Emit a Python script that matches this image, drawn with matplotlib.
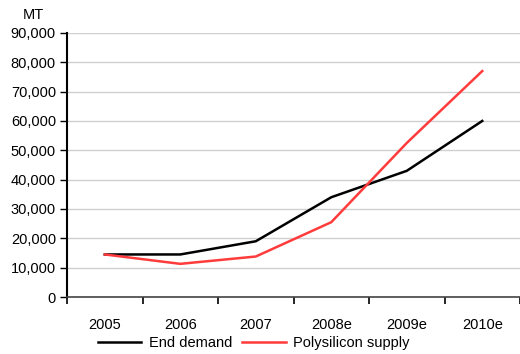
import matplotlib
matplotlib.use("Agg")
import matplotlib.pyplot as plt
import numpy as np

categories = ["2005", "2006", "2007", "2008e", "2009e", "2010e"]
end_demand = [14500, 14500, 19000, 34000, 43000, 60000]
poly_supply = [14500, 11300, 13800, 25500, 52500, 77000]
yticks = [0, 10000, 20000, 30000, 40000, 50000, 60000, 70000, 80000, 90000]

plt.rcParams['font.family'] = ['Liberation Sans', 'DejaVu Sans']
FS = 10.5

fig = plt.figure(figsize=(5.2, 3.54), dpi=100)
ax = fig.add_axes([0.129, 0.161, 0.871, 0.746])

x = np.arange(len(categories))
ax.plot(x, end_demand, color="black", lw=1.8, label="End demand")
ax.plot(x, poly_supply, color="#ff3b3b", lw=1.8, label="Polysilicon supply")

ax.set_xlim(-0.5, len(categories) - 0.5)
ax.set_ylim(0, 90000)
ax.set_yticks(yticks)
ax.set_yticklabels([f"{v:,}" for v in yticks], fontsize=FS)
ax.yaxis.grid(True, color="#d0d0d0", lw=1)
ax.set_axisbelow(True)

ax.set_xticks(x)
ax.set_xticklabels(categories, fontsize=FS)
ax.set_xticks(np.arange(-0.5, len(categories)), minor=True)
ax.tick_params(axis="x", which="major", length=0, pad=15)
ax.tick_params(axis="x", which="minor", length=5, width=1.2, direction="out", color="black")
ax.tick_params(axis="y", length=5, width=1, direction="out", pad=3)

for s in ["top", "right"]:
    ax.spines[s].set_visible(False)
ax.spines["left"].set_linewidth(1.5)
ax.spines["bottom"].set_linewidth(1.2)
ax.spines["bottom"].set_color("#444444")

fig.text(0.064, 0.958, "MT", fontsize=FS, ha="center", va="center")

fig.legend(loc="center", bbox_to_anchor=(0.488, 0.031), ncol=2, frameon=False,
           fontsize=FS, handlelength=3.0, columnspacing=0.7, handletextpad=0.5,
           borderpad=0)

fig.savefig("out.png", dpi=100)
